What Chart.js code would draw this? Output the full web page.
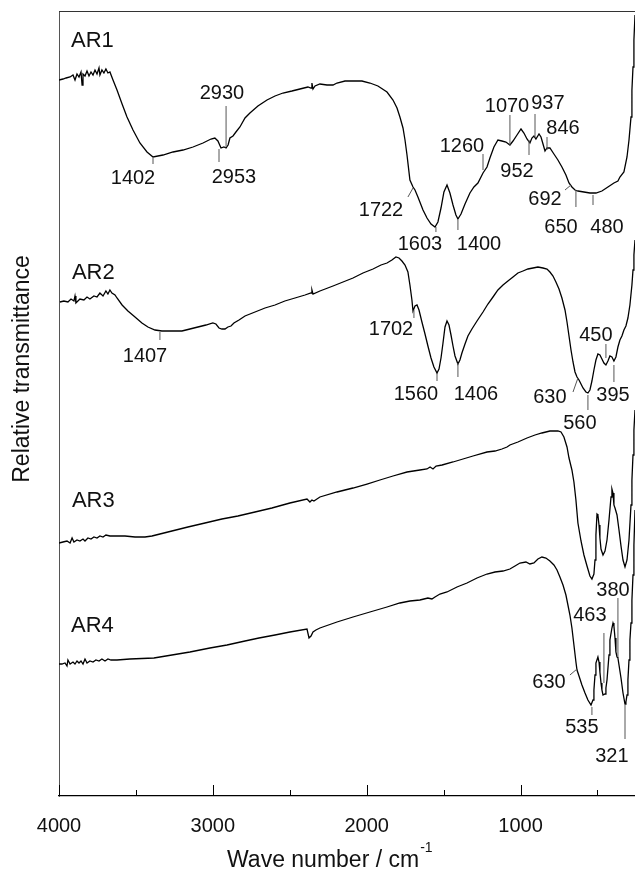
<!DOCTYPE html>
<html>
<head>
<meta charset="utf-8">
<script src="https://cdn.jsdelivr.net/npm/chart.js@4/dist/chart.umd.min.js"></script>
<style>
  html, body { margin: 0; padding: 0; background: #fff; }
  #myChart { display: block; }
</style>
</head>
<body>
<canvas id="myChart" width="635" height="871"></canvas>
<script>
// FTIR spectra, wave number (cm-1) and relative transmittance (arbitrary units, offset per sample)

const ar1Wave = [4000,3974,3954,3928,3909,3896,3883,3870,3857,3850,3844,3831,3818,3805,3792,3779,3766,3753,3740,3734,3721,3708,3695,3682,3669,
  3649,3623,3590,3558,3519,3474,3428,3389,3324,3259,3194,3129,3064,3012,2987,2967,2947,2928,2914,2901,2889,2869,2850,2824,2791,2759,2707,2648,2596,2544,2486,2434,2382,2362,2356,2349,2336,2304,2258,2219,2193,2141,2089,2031,1979,1927,1868,1829,1803,1784,1764,1751,1738,1719,1699,1686,1667,1634,1608,1582,1556,1537,1517,1498,1478,1459,1439,1420,1407,1387,1361,1329,1303,1277,1244,1218,1199,1173,1147,1121,1095,1069,1049,1023,997,978,958,939,926,913,900,880,867,854,841,828,809,783,757,731,705,685,666,646,627,588,549,510,471,432,393,367,354,328,308,295,282,276,269,263,256];
const ar1Value = [716,717,718,719,721,716,722,719,724,711,722,720,725,720,724,721,726,722,728,721,726,723,727,723,724,
  716,706,692,679,666,653,644,639,641,644,646,649,653,657,658,655,648,649,648,651,658,660,664,669,678,683,690,696,700,703,705,707,709,708,713,707,710,712,711,711,713,715,715,715,713,710,704,696,688,679,668,656,641,616,609,606,599,586,578,572,569,574,588,604,611,603,591,581,577,582,592,603,609,613,623,629,638,649,656,655,654,651,655,661,667,663,657,653,658,660,657,662,659,652,645,648,648,642,636,629,621,613,609,606,605,604,603,603,605,609,613,615,619,624,639,656,679,706,729,756,781];

const ar2Wave = [3994,3968,3942,3922,3903,3896,3890,3864,3838,3818,3799,3773,3753,3734,3714,3695,3682,3669,3656,3636,3623,3590,3552,3506,3461,3422,3376,3331,3266,3201,3149,3097,3045,3000,2980,2960,2941,2921,2902,2882,2863,2830,2791,2726,2661,2596,2532,2466,2401,2362,2356,2349,2304,2219,2154,2089,2024,1959,1907,1868,1836,1810,1790,1771,1751,1732,1719,1706,1699,1686,1673,1660,1641,1621,1602,1582,1563,1543,1530,1517,1504,1491,1478,1465,1452,1439,1426,1407,1394,1381,1361,1342,1316,1283,1244,1212,1179,1147,1114,1082,1049,1017,984,952,919,887,854,828,809,789,770,750,731,711,698,685,672,659,646,633,620,607,594,575,562,549,536,523,510,497,484,471,458,445,432,419,406,393,380,367,354,341,328,315,302,289,276,269,263,256];
const ar2Value = [494,495,494,497,495,500,493,497,496,499,497,500,499,503,500,505,502,506,503,501,498,491,485,479,473,469,466,465,465,465,467,469,471,473,472,468,467,467,469,470,473,476,480,484,488,491,495,498,501,503,506,502,505,510,514,518,523,527,531,533,536,539,538,535,531,524,511,496,485,490,491,486,474,462,450,438,429,423,427,438,453,469,475,471,461,450,440,432,436,443,452,460,467,475,484,492,499,506,511,515,519,523,525,527,528,529,528,527,524,520,514,507,498,486,474,460,446,434,424,419,416,412,408,404,403,406,415,426,436,442,441,437,433,431,435,440,439,435,439,449,456,460,466,470,478,491,511,526,541,556];

const ar3Wave = [4000,3974,3948,3928,3915,3903,3883,3864,3844,3831,3812,3792,3773,3753,3734,3714,3695,3669,3636,3571,3506,3441,3396,3344,3266,3162,3051,2941,2837,2726,2616,2499,2388,2369,2356,2343,2304,2193,2089,1998,1914,1829,1738,1654,1608,1588,1569,1549,1510,1439,1374,1309,1218,1166,1121,1088,1069,1017,958,906,861,809,757,737,718,698,685,666,653,640,627,607,588,568,549,536,523,516,510,503,497,490,484,477,464,451,438,425,412,406,399,393,386,373,360,347,334,321,308,295,282,276,269,263,256];
const ar3Value = [253,254,255,253,258,254,256,255,257,255,258,257,259,258,260,259,261,260,260,260,259,259,260,262,265,269,273,277,280,284,288,293,297,294,296,295,299,304,308,312,316,320,324,326,327,329,327,330,331,334,337,340,344,345,347,349,351,354,358,361,363,365,365,364,359,349,338,326,314,296,273,255,241,230,220,217,222,236,261,282,281,271,258,247,241,245,256,276,299,307,303,291,288,281,266,250,236,229,236,256,291,316,341,366,386];

const ar4Wave = [4000,3981,3961,3948,3942,3928,3909,3896,3883,3870,3857,3844,3831,3818,3799,3779,3760,3740,3721,3701,3682,3662,3623,3539,3383,3266,3149,3019,2908,2791,2700,2596,2499,2388,2375,2362,2349,2330,2304,2193,2089,1979,1868,1784,1719,1654,1602,1576,1556,1524,1478,1413,1348,1283,1218,1166,1114,1069,1036,1004,965,939,913,887,861,835,809,783,763,744,724,705,692,679,666,653,640,633,620,601,581,562,542,536,529,523,516,510,497,490,484,477,471,464,451,445,438,425,419,406,399,393,386,380,373,367,360,347,334,321,315,308,302,295,289,282,276,269,263,256];
const ar4Value = [132,132,133,130,136,132,134,132,135,133,135,132,137,133,135,134,136,135,137,135,137,136,136,137,138,141,144,148,151,155,158,161,164,167,158,160,164,166,168,174,179,184,189,193,195,196,198,197,199,202,204,209,213,218,222,224,225,227,230,233,234,232,233,237,239,238,235,231,226,219,211,201,191,181,168,151,134,126,120,111,103,96,91,91,96,106,121,133,139,134,124,113,106,101,102,108,116,141,156,168,173,170,158,144,139,138,131,118,103,92,94,101,116,136,156,173,196,221,251,286];

const seriesNames = ['AR1', 'AR2', 'AR3', 'AR4'];
const tickValues = [4000, 3000, 2000, 1000];
const minorTickValues = [3500, 2500, 1500, 500];

// peak labels: text, where the text sits, and the small leader line
const peakText = ['2930','2953','1402','1070','937','846','1260','952','1722','1603','1400','692','650','480',
  '1407','1702','1560','1406','630','560','450','395',
  '380','463','630','535','321'];
const peakTextWave = [2941,2863,3519,1088,822,724,1381,1023,1907,1654,1270,841,737,438,
  3441,1842,1680,1290,809,614,510,399,
  399,549,815,601,406];
const peakTextValue = [703,619,618,690,693,668,650,625,586,552,552,597,569,569,
  440,467,402,402,399,373,461,401,
  206,181,114,69,40];
const leadWave1 = [2914,2960,3389,1069,906,828,1244,945,1732,1550,1407,711,640,529,
  3344,1693,1543,1407,659,562,445,393,
  367,458,679,536,321];
const leadValue1 = [690,647,638,681,682,659,642,656,599,569,576,606,606,601,
  464,486,423,433,404,401,452,431,
  198,163,121,89,91];
const leadWave2 = [2914,2960,3389,1069,906,828,1244,945,1699,1550,1407,672,640,529,
  3344,1693,1543,1407,627,562,445,393,
  367,458,633,536,321];
const leadValue2 = [649,634,632,651,659,646,626,641,608,564,566,611,589,591,
  456,478,415,419,418,386,438,414,
  139,113,127,81,57];

const nameWave = [3922, 3916, 3916, 3922];
const nameValue = [755, 523, 295, 170];

let myChart = null;

function makeSet(wave, value) {
  let pts = [];
  for (let i = 0; i < wave.length; i++) {
    pts.push({ x: wave[i], y: value[i] });
  }
  return pts;
}

const extras = {
  id: 'extras',
  afterDraw(chart) {
    const ctx = chart.ctx;
    const xs = chart.scales.x;
    const ys = chart.scales.y;
    const area = chart.chartArea;
    ctx.save();

    // top frame line
    ctx.strokeStyle = '#333';
    ctx.lineWidth = 1;
    ctx.beginPath();
    ctx.moveTo(area.left, area.top + 0.5);
    ctx.lineTo(area.right, area.top + 0.5);
    ctx.stroke();

    // inward ticks on the bottom axis
    ctx.strokeStyle = '#000';
    ctx.beginPath();
    tickValues.forEach(v => {
      const px = Math.round(xs.getPixelForValue(v)) + 0.5;
      ctx.moveTo(px, area.bottom);
      ctx.lineTo(px, area.bottom - 11);
    });
    minorTickValues.forEach(v => {
      const px = Math.round(xs.getPixelForValue(v)) + 0.5;
      ctx.moveTo(px, area.bottom);
      ctx.lineTo(px, area.bottom - 6);
    });
    ctx.stroke();

    // leader lines
    ctx.strokeStyle = '#555';
    ctx.lineWidth = 1;
    ctx.beginPath();
    for (let i = 0; i < peakText.length; i++) {
      ctx.moveTo(xs.getPixelForValue(leadWave1[i]), ys.getPixelForValue(leadValue1[i]));
      ctx.lineTo(xs.getPixelForValue(leadWave2[i]), ys.getPixelForValue(leadValue2[i]));
    }
    ctx.stroke();

    // peak numbers
    ctx.fillStyle = '#111';
    ctx.font = '20px "Liberation Sans", Arial, sans-serif';
    ctx.textAlign = 'center';
    ctx.textBaseline = 'middle';
    for (let i = 0; i < peakText.length; i++) {
      ctx.fillText(peakText[i], xs.getPixelForValue(peakTextWave[i]), ys.getPixelForValue(peakTextValue[i]));
    }

    // sample names
    ctx.font = '22px "Liberation Sans", Arial, sans-serif';
    ctx.textAlign = 'left';
    for (let i = 0; i < seriesNames.length; i++) {
      ctx.fillText(seriesNames[i], xs.getPixelForValue(nameWave[i]), ys.getPixelForValue(nameValue[i]));
    }

    // axis titles
    ctx.font = '23px "Liberation Sans", Arial, sans-serif';
    ctx.textAlign = 'left';
    const main = 'Wave number / cm';
    const w = ctx.measureText(main).width;
    const startX = 227;
    ctx.fillText(main, startX, 861);
    ctx.font = '14px "Liberation Sans", Arial, sans-serif';
    ctx.fillText('-1', startX + w + 1, 848);

    ctx.font = '23px "Liberation Sans", Arial, sans-serif';
    ctx.translate(23, 369);
    ctx.rotate(-Math.PI / 2);
    ctx.textAlign = 'center';
    ctx.fillText('Relative transmittance', 0, 0);
    ctx.restore();
  }
};

function main() {
  const waves = [ar1Wave, ar2Wave, ar3Wave, ar4Wave];
  const values = [ar1Value, ar2Value, ar3Value, ar4Value];
  let sets = [];
  for (let i = 0; i < seriesNames.length; i++) {
    sets.push({
      label: seriesNames[i],
      data: makeSet(waves[i], values[i]),
      borderColor: '#000',
      borderWidth: 1.3,
      pointRadius: 0,
      tension: 0,
      fill: false
    });
  }

  const config = {
    type: 'line',
    data: { datasets: sets },
    options: {
      responsive: false,
      animation: false,
      devicePixelRatio: 1,
      layout: { padding: { top: 11, right: 0, left: 0, bottom: 0 } },
      plugins: { legend: { display: false }, tooltip: { enabled: false } },
      scales: {
        x: {
          type: 'linear',
          reverse: true,
          min: 256,
          max: 4000,
          grid: { display: false },
          border: { display: true, color: '#000', width: 1.2 },
          afterBuildTicks: s => { s.ticks = tickValues.map(v => ({ value: v })); },
          afterFit: s => { s.height = 75; },
          ticks: {
            color: '#111',
            padding: 10,
            maxRotation: 0,
            font: { size: 20, family: '"Liberation Sans", Arial, sans-serif' },
            callback: v => String(v)
          }
        },
        y: {
          type: 'linear',
          min: 0,
          max: 785,
          grid: { display: false },
          border: { display: true, color: '#555', width: 1 },
          ticks: { display: false },
          afterFit: s => { s.width = 59; }
        }
      }
    },
    plugins: [extras]
  };

  myChart = new Chart(document.getElementById('myChart'), config);
}

main();
</script>
</body>
</html>
